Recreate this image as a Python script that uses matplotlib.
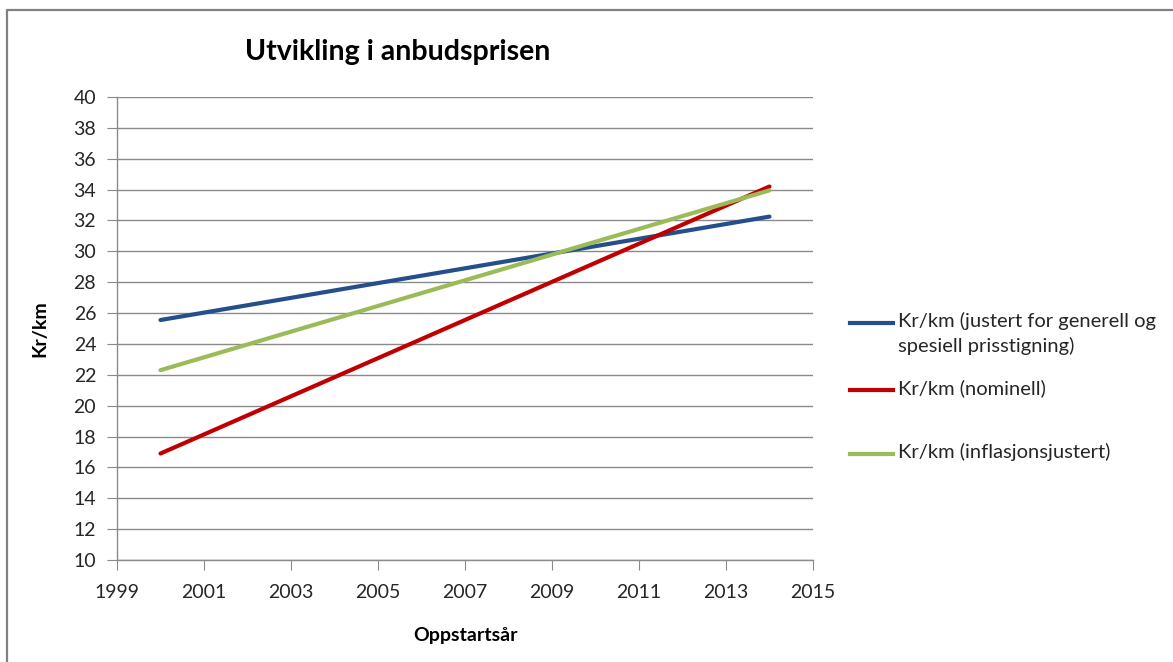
import matplotlib.pyplot as plt
from matplotlib.lines import Line2D

years = [2000, 2014]
justert = [25.55, 32.25]
nominell = [16.9, 34.2]
inflasjon = [22.3, 33.95]

labels = ["Kr/km (justert for generell og\nspesiell prisstigning)",
          "Kr/km (nominell)",
          "Kr/km (inflasjonsjustert)"]
colors = ["#254F8A", "#C00000", "#9BBB59"]

plt.rcParams['font.family'] = ['Lato', 'DejaVu Sans']
grey = "#8a8a8a"
W, H = 1173, 662

fig = plt.figure(figsize=(W / 100, H / 100), dpi=100)
ax = fig.add_axes([117 / W, 102 / H, 696 / W, 463 / H])

lines = []
for y, lab, c in zip([justert, nominell, inflasjon], labels, colors):
    ln, = ax.plot(years, y, color=c, lw=3, label=lab, solid_capstyle='round')
    lines.append(ln)

ax.set_xlim(1999, 2015)
ax.set_ylim(10, 40)
ax.set_xticks(range(1999, 2016, 2))
ax.set_yticks(range(10, 41, 2))
ax.grid(axis='y', color=grey, lw=1)
ax.set_axisbelow(True)
for s in ['top', 'right']:
    ax.spines[s].set_visible(False)
for s in ['left', 'bottom']:
    ax.spines[s].set_color(grey)
    ax.spines[s].set_linewidth(1)
ax.tick_params(axis='both', direction='out', length=7, color=grey,
               labelsize=14, labelcolor='#262626')
ax.tick_params(axis='x', pad=10)
ax.tick_params(axis='y', pad=8)

ax.set_xlabel("Oppstartsår", fontsize=14, fontweight='bold')
ax.xaxis.set_label_coords(0.5, (560 - 636) / 463)
ax.xaxis.label.set_va('center')
ax.set_ylabel("Kr/km", fontsize=14, fontweight='bold')
ax.yaxis.set_label_coords((40 - 117) / 696, 0.5)
ax.yaxis.label.set_va('center')

fig.text(398 / W, 1 - 52 / H, "Utvikling i anbudsprisen", fontsize=20.5,
         fontweight='bold', ha='center', va='center')

# legend entries on the right
legend_y = [323, 390, 454]
for ln, lab, yy in zip(lines, labels, legend_y):
    fig.add_artist(Line2D([850 / W, 893 / W], [1 - yy / H] * 2,
                          transform=fig.transFigure, color=ln.get_color(), lw=3))
    fig.text(898 / W, 1 - (yy - 11) / H, lab, fontsize=14.5, color='#262626',
             ha='left', va='top', linespacing=1.45)

# outer chart border (left and top edges only)
fig.add_artist(Line2D([7 / W, 7 / W, 1.0], [0.0, 1 - 10 / H, 1 - 10 / H],
                      transform=fig.transFigure, color='#808080', lw=1.6))

fig.savefig("out.png", dpi=100)
